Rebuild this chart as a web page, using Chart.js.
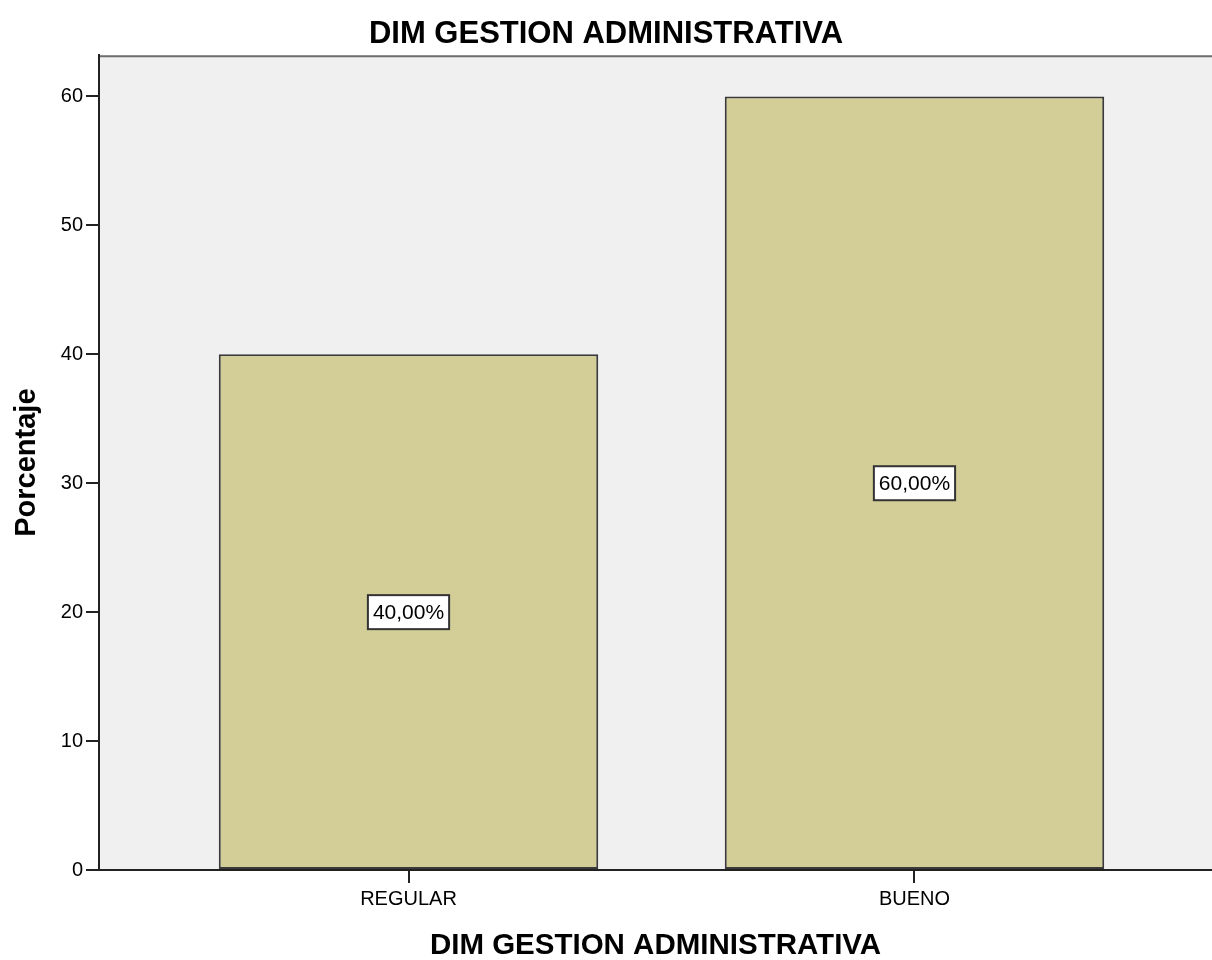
<!DOCTYPE html>
<html>
<head>
<meta charset="utf-8">
<script src="https://cdn.jsdelivr.net/npm/chart.js@4.4.1/dist/chart.umd.min.js"></script>
<style>
  html, body { margin: 0; padding: 0; background: #ffffff; overflow: hidden; }
  #wrap { width: 1212px; height: 960px; position: relative; }
</style>
</head>
<body>
<div id="wrap"><canvas id="c" width="1212" height="960"></canvas></div>
<script>
// Frequencies of the administrative-management dimension (percent)
const categories = ['REGULAR', 'BUENO'];
const percentages = [40, 60];
const yTicks = [0, 10, 20, 30, 40, 50, 60];

const FONT = "'Liberation Sans', Arial, sans-serif";

// Grey plot background plus the top frame line
const plotFrame = {
  id: 'plotFrame',
  beforeDraw(chart) {
    const { ctx, chartArea: a } = chart;
    ctx.save();
    ctx.fillStyle = '#f0f0f0';
    ctx.fillRect(a.left, a.top, a.right - a.left, a.bottom - a.top);
    ctx.strokeStyle = '#6e6e6e';
    ctx.lineWidth = 2;
    ctx.beginPath();
    ctx.moveTo(a.left, a.top + 1);
    ctx.lineTo(a.right, a.top + 1);
    ctx.stroke();
    ctx.restore();
  }
};

// Boxed percentage label at half the bar's height
const valueBoxes = {
  id: 'valueBoxes',
  afterDatasetsDraw(chart) {
    const { ctx } = chart;
    const yScale = chart.scales.y;
    const meta = chart.getDatasetMeta(0);
    ctx.save();
    ctx.font = '21px ' + FONT;
    ctx.textAlign = 'center';
    ctx.textBaseline = 'middle';
    meta.data.forEach((bar, i) => {
      const v = percentages[i];
      const txt = v.toFixed(2).replace('.', ',') + '%';
      const cx = bar.x;
      const cy = yScale.getPixelForValue(v / 2);
      const w = ctx.measureText(txt).width + 10;
      const h = 34;
      ctx.fillStyle = '#ffffff';
      ctx.fillRect(cx - w / 2, cy - h / 2, w, h);
      ctx.strokeStyle = '#333333';
      ctx.lineWidth = 2;
      ctx.strokeRect(cx - w / 2, cy - h / 2, w, h);
      ctx.fillStyle = '#000000';
      ctx.fillText(txt, cx, cy + 1);
    });
    ctx.restore();
  }
};

new Chart(document.getElementById('c'), {
  type: 'bar',
  data: {
    datasets: [{
      data: percentages.map((v, i) => ({ x: i, y: v })),
      backgroundColor: '#d3ce97',
      borderColor: '#3a3a3a',
      borderWidth: 2,
      borderSkipped: false,
      barPercentage: 0.75,
      categoryPercentage: 1
    }]
  },
  options: {
    responsive: false,
    animation: false,
    layout: { padding: { left: 0, right: 0, top: 0, bottom: 0 } },
    plugins: {
      legend: { display: false },
      tooltip: { enabled: false },
      title: {
        display: true,
        text: 'DIM GESTION ADMINISTRATIVA',
        color: '#000000',
        font: { family: FONT, size: 31, weight: 'bold', lineHeight: 1.2 },
        padding: { top: 16, bottom: 2 }
      }
    },
    scales: {
      x: {
        type: 'linear',
        offset: false,
        min: -0.6117,
        max: 1.588,
        afterBuildTicks(scale) {
          scale.ticks = categories.map((c, i) => ({ value: i }));
        },
        afterFit(scale) { scale.height = 90; },
        ticks: {
          color: '#000000',
          font: { family: FONT, size: 20 },
          padding: 4,
          maxRotation: 0,
          autoSkip: false,
          callback: (v) => categories[v]
        },
        grid: { offset: false, drawOnChartArea: false, drawTicks: true, tickLength: 13, color: '#222222', lineWidth: 2 },
        border: { display: true, color: '#222222', width: 2 },
        title: {
          display: true,
          text: 'DIM GESTION ADMINISTRATIVA',
          color: '#000000',
          font: { family: FONT, size: 29.5, weight: 'bold', lineHeight: 1.2 },
          padding: { top: 8, bottom: -4 }
        }
      },
      y: {
        min: 0,
        max: 63.2,
        afterBuildTicks(scale) {
          scale.ticks = yTicks.map(v => ({ value: v }));
        },
        afterFit(scale) { scale.width = 99; },
        ticks: {
          color: '#000000',
          font: { family: FONT, size: 20 },
          padding: 3
        },
        grid: { drawOnChartArea: false, drawTicks: true, tickLength: 13, color: '#222222', lineWidth: 2 },
        border: { display: true, color: '#222222', width: 2 },
        title: {
          display: true,
          text: 'Porcentaje',
          color: '#000000',
          font: { family: FONT, size: 29, weight: 'bold', lineHeight: 1.2 },
          padding: { top: 10, bottom: 0 }
        }
      }
    }
  },
  plugins: [plotFrame, valueBoxes]
});
</script>
</body>
</html>
